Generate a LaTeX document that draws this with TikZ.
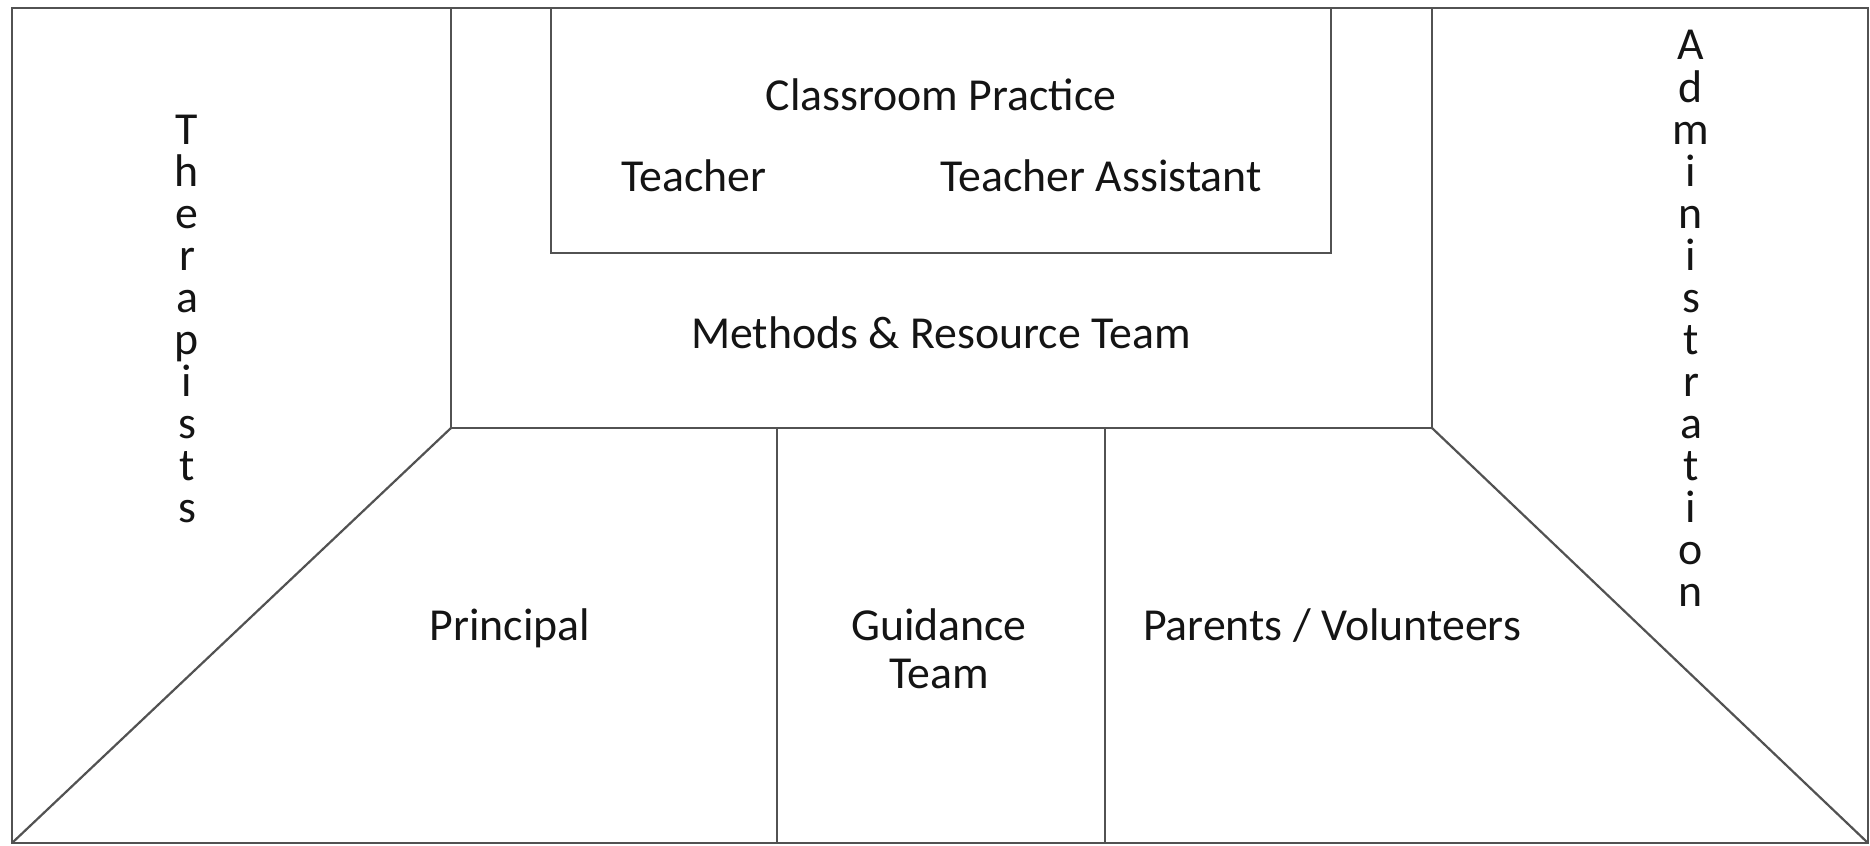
\documentclass[tikz,border=0pt]{standalone}
\usepackage{fontspec}
\setmainfont{Carlito}
\begin{document}
\begin{tikzpicture}[x=0.5pt,y=-0.5pt,
  frame/.style={draw=black!68,line width=1.1pt,line join=miter},
  lbl/.style={font=\fontsize{22.9}{24}\selectfont,text=black!92,inner sep=0pt,anchor=base}]
\useasboundingbox (0,0) rectangle (1870,846);
% frame corners
\coordinate (otl) at (12,8);
\coordinate (obr) at (1868,843);
\coordinate (obl) at (12,843);
% methods box
\coordinate (mtl) at (451,8);
\coordinate (mbl) at (451,428);
\coordinate (mbr) at (1432,428);
\coordinate (mtr) at (1432,8);
% classroom box
\coordinate (ctl) at (551,8);
\coordinate (cbl) at (551,253);
\coordinate (cbr) at (1331,253);
\coordinate (ctr) at (1331,8);
% dividers
\coordinate (d1t) at (777,428);
\coordinate (d1b) at (777,843);
\coordinate (d2t) at (1105,428);
\coordinate (d2b) at (1105,843);

\draw[frame] (otl) rectangle (obr);
\draw[frame] (mtl) -- (mbl) -- (mbr) -- (mtr);
\draw[frame] (ctl) -- (cbl) -- (cbr) -- (ctr);
\draw[frame] (d1t) -- (d1b);
\draw[frame] (d2t) -- (d2b);
\draw[frame] (mbl) -- (obl);
\draw[frame] (mbr) -- (obr);

\node[lbl] (cp) at (941,110) {Classroom Practice};
\node[lbl] (teacher) at (694,191) {Teacher};
\node[lbl] (ta) at (1101,191) {Teacher Assistant};
\node[lbl] (mrt) at (941,348) {Methods \& Resource Team};
\node[lbl] (principal) at (510,640) {Principal};
\node[lbl] (guid) at (939,640) {Guidance};
\node[lbl] (guidteam) at (939,688) {Team};
\node[lbl] (parents) at (1332,640) {Parents / Volunteers};

\foreach \ch [count=\i from 0] in {T,h,e,r,a,p,i,s,t,s}
  \node[lbl] (th\i) at (187,{144+42.1*\i}) {\ch};
\foreach \ch [count=\i from 0] in {A,d,m,i,n,i,s,t,r,a,t,i,o,n}
  \node[lbl] (ad\i) at (1691,{60+42*\i}) {\ch};
\end{tikzpicture}
\end{document}
